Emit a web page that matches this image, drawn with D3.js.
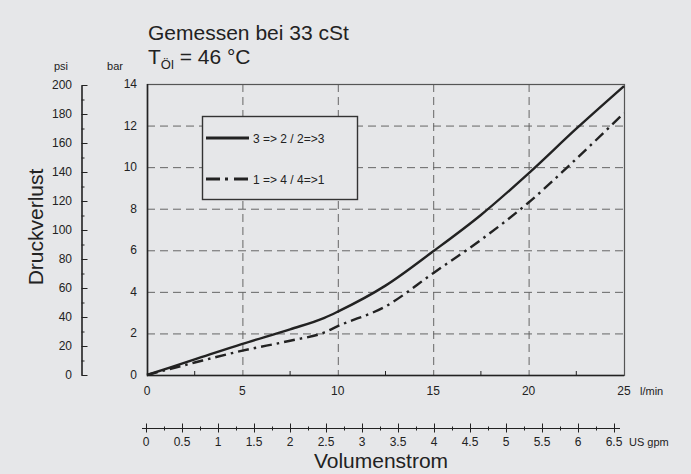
<!DOCTYPE html>
<meta charset="utf-8"/>
<title>Druckverlust</title>
<script src="https://d3js.org/d3.v7.min.js"></script>
<style>
  body { margin: 0; background: #e6e7e9; }
  svg { display: block; font-family: 'Liberation Sans', Arial, sans-serif; fill: #222; }
  .grid line { stroke: #666; stroke-dasharray: 8 5; stroke-width: 1; }
</style>
<svg width=691 height=474></svg>
<script>
  // Volumenstrom l/min vs. Druckverlust bar
  const flow = [0, 2.5, 5, 7.5, 9.3, 10, 12.5, 15, 17.5, 20, 22.5, 25];
  const dp32 = [0, 0.75, 1.5, 2.2, 2.75, 3.05, 4.3, 5.95, 7.7, 9.7, 11.85, 13.9];
  const dp14 = [0, 0.6, 1.17, 1.65, 2.05, 2.35, 3.3, 4.9, 6.5, 8.3, 10.4, 12.6];
  const barTicks = [0, 2, 4, 6, 8, 10, 12, 14];
  const psiTicks = [0, 20, 40, 60, 80, 100, 120, 140, 160, 180, 200];
  const lminTicks = [0, 5, 10, 15, 20, 25];
  const gpmTicks = [0, 0.5, 1, 1.5, 2, 2.5, 3, 3.5, 4, 4.5, 5, 5.5, 6, 6.5];
  const legend = ['3 => 2 / 2=>3', '1 => 4 / 4=>1'];

  const svg = d3.select('svg');
  const x = d3.scaleLinear().domain([0, 25]).range([147, 624]);
  const y = d3.scaleLinear().domain([0, 14]).range([375, 84]);
  const psi = d3.scaleLinear().domain([0, 200]).range([375, 85]);
  const gpm = d3.scaleLinear().domain([0, 6.5]).range([146, 614]);
  const ink = '#222';

  // grid
  const grid = svg.append('g').attr('class', 'grid');
  grid.selectAll('.v').data([5, 10, 15, 20]).enter().append('line')
    .attr('x1', d => x(d) + 0.5).attr('x2', d => x(d) + 0.5)
    .attr('y1', y(14)).attr('y2', y(0));
  grid.selectAll('.h').data([2, 4, 6, 8, 10, 12]).enter().append('line')
    .attr('x1', x(0)).attr('x2', x(25))
    .attr('y1', d => y(d) + 0.5).attr('y2', d => y(d) + 0.5);

  // frame
  svg.append('rect')
    .attr('x', x(0) + 0.5).attr('y', y(14) + 0.5)
    .attr('width', x(25) - x(0)).attr('height', y(0) - y(14))
    .style('fill', 'none').style('stroke', '#555').style('stroke-width', 1.2);
  svg.append('path')
    .attr('d', 'M' + (x(0) + 0.5) + ',' + y(14) + 'V' + (y(0) + 0.5) + 'H' + x(25))
    .style('fill', 'none').style('stroke', ink).style('stroke-width', 1.6);

  // minor ticks on l/min axis
  svg.selectAll('.mt').data([2.5, 7.5, 12.5, 17.5, 22.5]).enter().append('line')
    .attr('x1', d => x(d)).attr('x2', d => x(d))
    .attr('y1', y(0)).attr('y2', y(0) - 4)
    .style('stroke', ink).style('stroke-width', 1);

  // bar labels
  svg.selectAll('.bl').data(barTicks).enter().append('text')
    .attr('x', 137).attr('y', d => y(d) + 4)
    .attr('text-anchor', 'end').style('font-size', '12px')
    .text(d => d);

  // l/min labels
  svg.selectAll('.xl').data(lminTicks).enter().append('text')
    .attr('x', x).attr('y', 395)
    .attr('text-anchor', 'middle').style('font-size', '12px')
    .text(d => d);
  svg.append('text').attr('x', 640).attr('y', 395).style('font-size', '11px').text('l/min');

  // psi axis
  const psiAxis = d3.axisRight(psi).tickValues(d3.range(0, 201, 10)).tickSize(0).tickFormat('');
  const pg = svg.append('g').attr('transform', 'translate(81.5,0)').call(psiAxis);
  pg.select('.domain').style('stroke', ink).style('stroke-width', 1.6);
  pg.selectAll('.tick line').attr('x2', d => d % 20 === 0 ? 6 : 3).style('stroke', ink);
  svg.selectAll('.pl').data(psiTicks).enter().append('text')
    .attr('x', 72).attr('y', d => psi(d) + 4)
    .attr('text-anchor', 'end').style('font-size', '12px')
    .text(d => d);
  svg.append('text').attr('x', 61).attr('y', 70).attr('text-anchor', 'middle').style('font-size', '11px').text('psi');
  svg.append('text').attr('x', 115).attr('y', 70).attr('text-anchor', 'middle').style('font-size', '11px').text('bar');

  // gpm axis
  const gy = 428.5;
  svg.append('line').attr('x1', 142).attr('x2', 620).attr('y1', gy).attr('y2', gy)
    .style('stroke', ink).style('stroke-width', 1);
  svg.selectAll('.gt').data(d3.range(0, 27).map(i => i * 0.25)).enter().append('line')
    .attr('x1', d => gpm(d) + 0.5).attr('x2', d => gpm(d) + 0.5)
    .attr('y1', (d, i) => i % 2 === 0 ? gy - 5 : gy - 2)
    .attr('y2', (d, i) => i % 2 === 0 ? gy + 4 : gy + 2)
    .style('stroke', ink).style('stroke-width', 1);
  svg.selectAll('.gl').data(gpmTicks).enter().append('text')
    .attr('x', gpm).attr('y', 446)
    .attr('text-anchor', 'middle').style('font-size', '12px')
    .text(d => d);
  svg.append('text').attr('x', 629).attr('y', 446).style('font-size', '11px').text('US gpm');

  // axis titles
  svg.append('text').attr('x', 381).attr('y', 468).attr('text-anchor', 'middle')
    .style('font-size', '21px').text('Volumenstrom');
  svg.append('text').attr('transform', 'translate(43,227) rotate(-90)').attr('text-anchor', 'middle')
    .style('font-size', '21px').text('Druckverlust');

  // title
  svg.append('text').attr('x', 148).attr('y', 40).style('font-size', '21px').text('Gemessen bei 33 cSt');
  const t = svg.append('text').attr('x', 148).attr('y', 64).style('font-size', '21px');
  t.append('tspan').text('T');
  t.append('tspan').attr('dy', 5).style('font-size', '13px').text('Öl');
  t.append('tspan').attr('dy', -5).text(' = 46 °C');

  // curves
  const line = d3.line().x(d => x(d[0])).y(d => y(d[1])).curve(d3.curveMonotoneX);
  svg.append('path').datum(d3.zip(flow, dp32)).attr('d', line)
    .style('fill', 'none').style('stroke', ink).style('stroke-width', 2.4);
  svg.append('path').datum(d3.zip(flow, dp14)).attr('d', line)
    .style('fill', 'none').style('stroke', ink).style('stroke-width', 2.4)
    .style('stroke-dasharray', '11 5 2.5 5');

  // legend
  const lg = svg.append('g');
  lg.append('rect').attr('x', 202.5).attr('y', 116.5).attr('width', 155).attr('height', 83)
    .style('fill', '#e6e7e9').style('stroke', '#333').style('stroke-width', 1.4);
  const ly = [138, 179];
  lg.selectAll('.ll').data(legend).enter().append('line')
    .attr('x1', 206).attr('x2', 249).attr('y1', (d, i) => ly[i]).attr('y2', (d, i) => ly[i])
    .style('stroke', ink).style('stroke-width', 3)
    .style('stroke-dasharray', (d, i) => i ? '14 5 3 6 14' : null);
  lg.selectAll('.lt').data(legend).enter().append('text')
    .attr('x', 253).attr('y', (d, i) => ly[i] + 5)
    .style('font-size', '12px').text(d => d);
</script>
